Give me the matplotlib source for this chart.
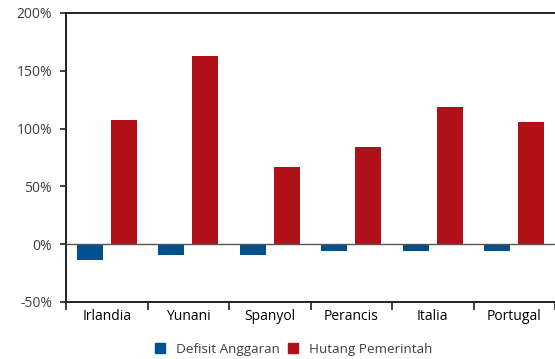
import numpy as np
import matplotlib.pyplot as plt
from matplotlib.patches import Patch

# Anggaran dan hutang pemerintah (% PDB)
negara = ['Irlandia', 'Yunani', 'Spanyol', 'Perancis', 'Italia', 'Portugal']
defisit = [-13.6, -9.5, -9.5, -5.8, -5.8, -5.8]
hutang = [107, 162.5, 66.5, 84, 118.5, 105.5]
yticks = [-50, 0, 50, 100, 150, 200]

biru = '#00508f'
merah = '#b01119'
abu = '#404040'

plt.rcParams['font.family'] = ['Open Sans', 'DejaVu Sans']

fig = plt.figure(figsize=(5.55, 3.59), dpi=100)
ax = fig.add_axes([0.119, 0.159, 0.881, 0.805])

x = np.arange(len(negara))
w = 0.32
ax.bar(x - 0.21, defisit, width=w, color=biru, zorder=2)
ax.bar(x + 0.21, hutang, width=w, color=merah, zorder=2)
ax.axhline(0, color='#555555', lw=1.0, zorder=3)

ax.set_xlim(-0.5, len(negara) - 0.5)
ax.set_ylim(-50, 200)
ax.set_yticks(yticks)
ax.set_yticklabels([f'{v}%' for v in yticks])

# label negara di tengah, tick di batas kategori
ax.set_xticks(np.arange(len(negara) + 1) - 0.5)
ax.set_xticklabels([])
ax.set_xticks(x, minor=True)
ax.set_xticklabels(negara, minor=True)
ax.tick_params(axis='x', which='minor', length=0, pad=5)
ax.tick_params(axis='x', which='major', length=6, width=1.2, color='#222222', direction='out')
ax.tick_params(axis='y', length=4, width=1.2, color='#222222', direction='out', pad=6)
ax.tick_params(labelsize=10, labelcolor=abu)

for s in ['left', 'bottom', 'top']:
    ax.spines[s].set_color('#222222')
    ax.spines[s].set_linewidth(1.4)
ax.spines['right'].set_visible(False)

handles = [Patch(color=biru, label='Defisit Anggaran'),
           Patch(color=merah, label='Hutang Pemerintah')]
fig.legend(handles=handles, loc='lower center', bbox_to_anchor=(0.529, -0.025),
           ncol=2, frameon=False, fontsize=9.7, labelcolor=abu,
           handlelength=0.75, handleheight=0.75, handletextpad=0.8, columnspacing=0.6)

fig.savefig('out.png', dpi=100)
